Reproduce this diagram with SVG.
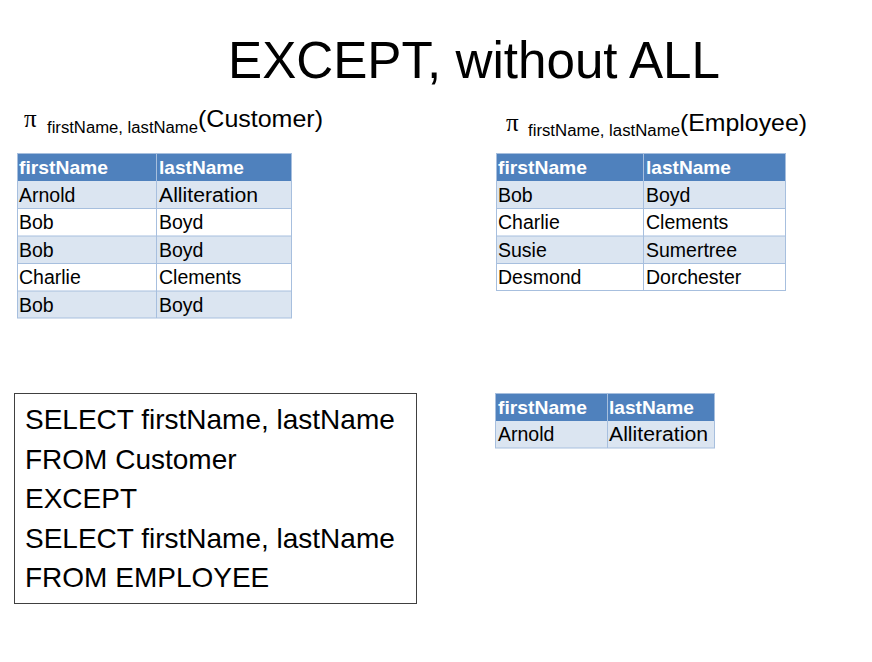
<svg xmlns="http://www.w3.org/2000/svg" width="872" height="662" viewBox="0 0 872 662">
<style>
.t{font-family:"Liberation Sans",Arial,sans-serif;fill:#000}
.hd{fill:#4F81BD}
.lt{fill:#DBE5F1}
.wh{fill:#FFFFFF}
.bd{fill:none;stroke:#A7BFDE;stroke-width:1}
.ht{font-family:"Liberation Sans",Arial,sans-serif;font-weight:bold;font-size:19px;fill:#FFFFFF}
.ct{font-family:"Liberation Sans",Arial,sans-serif;font-size:19.5px;fill:#000}
.pi{font-family:"Liberation Serif","Times New Roman",serif;font-size:25px;fill:#000}
.sub{font-family:"Liberation Sans",Arial,sans-serif;font-size:16px;fill:#000}
.rel{font-family:"Liberation Sans",Arial,sans-serif;font-size:24px;fill:#000}
.sql{font-family:"Liberation Sans",Arial,sans-serif;font-size:28px;fill:#000}
</style>
<rect width="872" height="662" fill="#FFFFFF"/>
<g id="title">
<text class="t" x="228" y="78" font-size="52" textLength="492" lengthAdjust="spacingAndGlyphs">EXCEPT, without ALL</text>
</g>
<g id="customer-label">
<text class="pi" x="24" y="127">π</text>
<text class="sub" x="47" y="133" textLength="151" lengthAdjust="spacingAndGlyphs">firstName, lastName</text>
<text class="rel" x="198" y="127" textLength="125" lengthAdjust="spacingAndGlyphs">(Customer)</text>
</g>
<g id="customer-table">
<rect class="hd" x="17" y="153" width="275" height="28"/>
<rect class="lt" x="17" y="181" width="275" height="27"/>
<rect class="wh" x="17" y="208" width="275" height="28"/>
<rect class="lt" x="17" y="236" width="275" height="27"/>
<rect class="wh" x="17" y="263" width="275" height="28"/>
<rect class="lt" x="17" y="291" width="275" height="27"/>
<path class="bd" d="M17 208.5H292M17 236H292M17 263.5H292M17 291H292M156.5 153V318"/>
<rect class="bd" x="17.5" y="153.5" width="274" height="164.5"/>
<text class="ht" x="19" y="174" textLength="89" lengthAdjust="spacingAndGlyphs">firstName</text>
<text class="ht" x="159" y="174" textLength="85" lengthAdjust="spacingAndGlyphs">lastName</text>
<text class="ct" x="19" y="201.5">Arnold</text><text class="ct" x="159" y="201.5" textLength="99" lengthAdjust="spacingAndGlyphs">Alliteration</text>
<text class="ct" x="19" y="229">Bob</text><text class="ct" x="159" y="229">Boyd</text>
<text class="ct" x="19" y="256.5">Bob</text><text class="ct" x="159" y="256.5">Boyd</text>
<text class="ct" x="19" y="284">Charlie</text><text class="ct" x="159" y="284">Clements</text>
<text class="ct" x="19" y="311.5">Bob</text><text class="ct" x="159" y="311.5">Boyd</text>
</g>
<g id="employee-label">
<text class="pi" x="506" y="131">π</text>
<text class="sub" x="528" y="136" textLength="152" lengthAdjust="spacingAndGlyphs">firstName, lastName</text>
<text class="rel" x="680" y="131" textLength="127" lengthAdjust="spacingAndGlyphs">(Employee)</text>
</g>
<g id="employee-table">
<rect class="hd" x="496" y="153" width="290" height="28"/>
<rect class="lt" x="496" y="181" width="290" height="27"/>
<rect class="wh" x="496" y="208" width="290" height="28"/>
<rect class="lt" x="496" y="236" width="290" height="27"/>
<rect class="wh" x="496" y="263" width="290" height="28"/>
<path class="bd" d="M496 208.5H786M496 236H786M496 263.5H786M643.5 153V291"/>
<rect class="bd" x="496.5" y="153.5" width="289" height="137"/>
<text class="ht" x="498" y="174" textLength="89" lengthAdjust="spacingAndGlyphs">firstName</text>
<text class="ht" x="646" y="174" textLength="85" lengthAdjust="spacingAndGlyphs">lastName</text>
<text class="ct" x="498" y="201.5">Bob</text><text class="ct" x="646" y="201.5">Boyd</text>
<text class="ct" x="498" y="229">Charlie</text><text class="ct" x="646" y="229">Clements</text>
<text class="ct" x="498" y="256.5">Susie</text><text class="ct" x="646" y="256.5">Sumertree</text>
<text class="ct" x="498" y="284">Desmond</text><text class="ct" x="646" y="284">Dorchester</text>
</g>
<g id="sql-box">
<rect x="14.5" y="393.5" width="402" height="210" fill="#FFFFFF" stroke="#404040" stroke-width="1"/>
<text class="sql" x="25" y="429">SELECT firstName, lastName</text>
<text class="sql" x="25" y="468.5">FROM Customer</text>
<text class="sql" x="25" y="508">EXCEPT</text>
<text class="sql" x="25" y="547.5">SELECT firstName, lastName</text>
<text class="sql" x="25" y="587">FROM EMPLOYEE</text>
</g>
<g id="result-table">
<rect class="hd" x="495" y="393" width="220" height="28"/>
<rect class="lt" x="495" y="421" width="220" height="27"/>
<path class="bd" d="M607.5 393V448"/>
<rect class="bd" x="495.5" y="393.5" width="219" height="54.5"/>
<text class="ht" x="498" y="413.5" textLength="89" lengthAdjust="spacingAndGlyphs">firstName</text>
<text class="ht" x="609" y="413.5" textLength="85" lengthAdjust="spacingAndGlyphs">lastName</text>
<text class="ct" x="498" y="441">Arnold</text><text class="ct" x="609" y="441" textLength="99" lengthAdjust="spacingAndGlyphs">Alliteration</text>
</g>
<g id="connectors"/>
</svg>
